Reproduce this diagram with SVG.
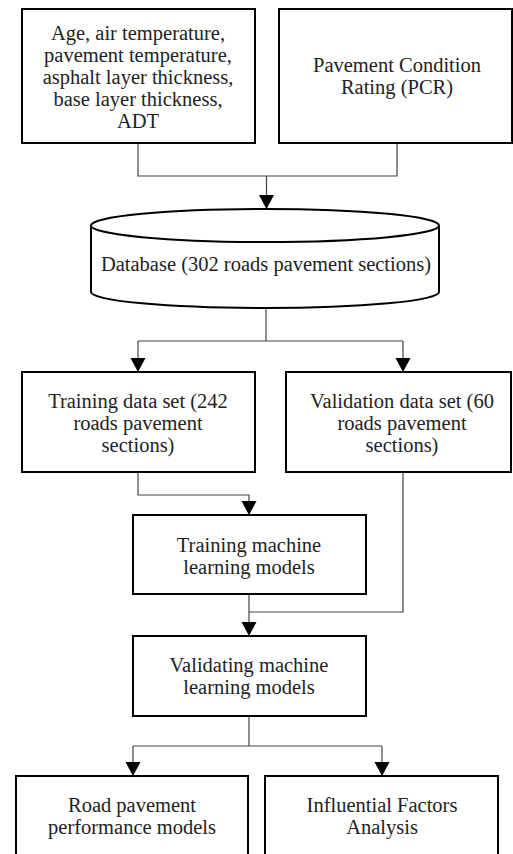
<svg xmlns="http://www.w3.org/2000/svg" width="513" height="854" viewBox="0 0 513 854">
<defs>
<style>
.box{fill:#fff;stroke:#000;stroke-width:2}
.t{font-family:"Liberation Serif","Times New Roman",serif;font-size:20.5px;fill:#222;text-anchor:middle}
.c{fill:none;stroke:#444;stroke-width:1.2}
</style>
<marker id="ah" markerUnits="userSpaceOnUse" markerWidth="15" markerHeight="16" refX="14" refY="8" orient="auto" viewBox="0 0 15 16">
<path d="M0,0.5 L14,8 L0,15.5 Z" fill="#000"/>
</marker>
</defs>
<rect width="513" height="854" fill="#fff"/>
<g id="connectors">
<path class="c" d="M138,143 V176 H397 V143"/>
<path class="c" d="M266.5,176 V209" marker-end="url(#ah)"/>
<path class="c" d="M266,308 V341"/>
<path class="c" d="M138,341 H403"/>
<path class="c" d="M138,341 V372" marker-end="url(#ah)"/>
<path class="c" d="M403,341 V372" marker-end="url(#ah)"/>
<path class="c" d="M138,472 V495 H249 V515" marker-end="url(#ah)"/>
<path class="c" d="M403,472 V612 H249"/>
<path class="c" d="M249,594 V636" marker-end="url(#ah)"/>
<path class="c" d="M249,716 V746"/>
<path class="c" d="M133,746 H382"/>
<path class="c" d="M133,746 V776" marker-end="url(#ah)"/>
<path class="c" d="M382,746 V776" marker-end="url(#ah)"/>
</g>
<g id="inputs">
<rect class="box" x="22" y="9" width="233" height="134"/>
<text class="t" x="138"><tspan x="138" y="40">Age, air temperature,</tspan><tspan x="138" y="62">pavement temperature,</tspan><tspan x="138" y="84">asphalt layer thickness,</tspan><tspan x="138" y="106">base layer thickness,</tspan><tspan x="138" y="128">ADT</tspan></text>
</g>
<g id="pcr">
<rect class="box" x="279" y="9" width="233" height="134"/>
<text class="t"><tspan x="397" y="72">Pavement Condition</tspan><tspan x="397" y="94">Rating (PCR)</tspan></text>
</g>
<g id="database">
<path class="box" d="M91,225.5 V292 A174,16 0 0 0 439,292 V225.5 A174,16.5 0 0 0 91,225.5 Z"/>
<path class="box" d="M91,225.5 A174,16.5 0 0 0 439,225.5" fill="none"/>
<text class="t" x="266" y="271">Database (302 roads pavement sections)</text>
</g>
<g id="training-data">
<rect class="box" x="22" y="372" width="233" height="100"/>
<text class="t"><tspan x="138" y="408">Training data set (242</tspan><tspan x="138" y="430">roads pavement</tspan><tspan x="138" y="452">sections)</tspan></text>
</g>
<g id="validation-data">
<rect class="box" x="286" y="372" width="225" height="100"/>
<text class="t"><tspan x="402" y="408">Validation data set (60</tspan><tspan x="402" y="430">roads pavement</tspan><tspan x="402" y="452">sections)</tspan></text>
</g>
<g id="training-ml">
<rect class="box" x="133" y="515" width="233" height="79"/>
<text class="t"><tspan x="249" y="552">Training machine</tspan><tspan x="249" y="574">learning models</tspan></text>
</g>
<g id="validating-ml">
<rect class="box" x="133" y="636" width="233" height="80"/>
<text class="t"><tspan x="249" y="672">Validating machine</tspan><tspan x="249" y="694">learning models</tspan></text>
</g>
<g id="performance-models">
<rect class="box" x="16" y="776" width="232" height="100"/>
<text class="t"><tspan x="132" y="812">Road pavement</tspan><tspan x="132" y="834">performance models</tspan></text>
</g>
<g id="influential-factors">
<rect class="box" x="265" y="776" width="233" height="100"/>
<text class="t"><tspan x="382" y="812">Influential Factors</tspan><tspan x="382" y="834">Analysis</tspan></text>
</g>
</svg>
